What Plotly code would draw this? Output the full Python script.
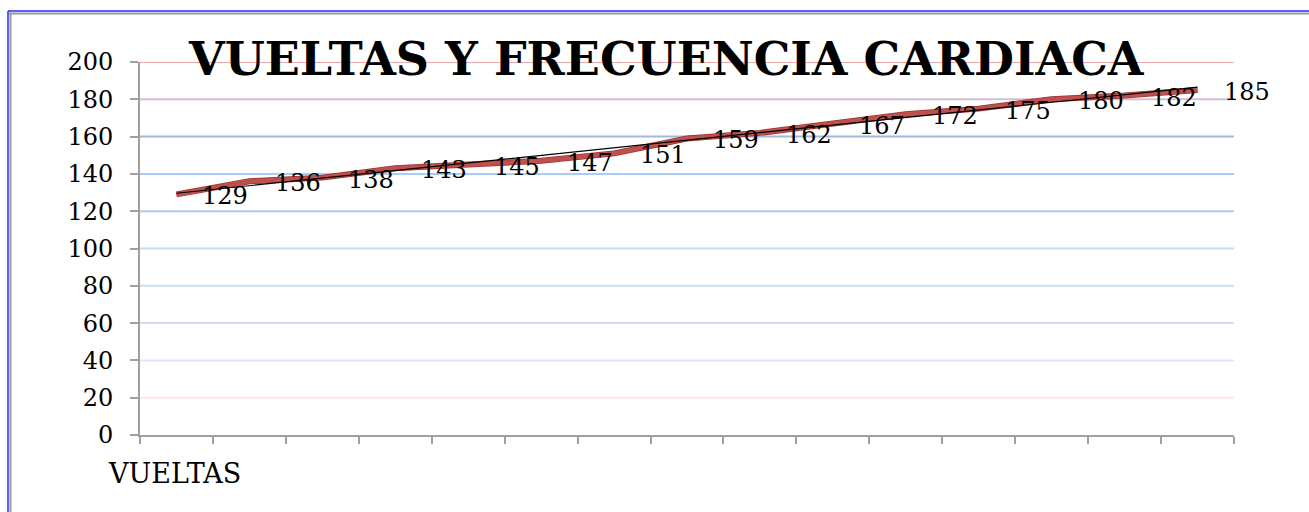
import numpy as np
import plotly.graph_objects as go

# ---- data ----
categories = [str(i) for i in range(1, 16)]
values = [129, 136, 138, 143, 145, 147, 151, 159, 162, 167, 172, 175, 180, 182, 185]
y_ticks = [0, 20, 40, 60, 80, 100, 120, 140, 160, 180, 200]
grid_colors = ["#ffffff", "#fce6f3", "#e9e1f5", "#d3def2", "#c9dcf2", "#c2def8",
               "#a9d0f6", "#a6cdf3", "#a3b8e2", "#d2bfd6", "#e8aaaa"]
title_text = "VUELTAS Y FRECUENCIA CARDIACA"
xlabel_text = "VUELTAS"

# linear trendline from the data (Excel-style)
xs = np.arange(1, len(values) + 1)
slope, intercept = np.polyfit(xs, values, 1)
trend = slope * xs + intercept

W, H = 1309, 512
L, R, T, B = 140, 75, 62, 77
pw, ph = W - L - R, H - T - B

def px_x(p):
    return (p - L) / pw

def px_y(q):
    return (H - B - q) / ph

FONT = "DejaVu Serif"

fig = go.Figure()
fig.add_trace(go.Scatter(x=categories, y=values, mode="lines",
                         line=dict(color="#9a3431", width=6), hoverinfo="skip",
                         showlegend=False))
fig.add_trace(go.Scatter(x=categories, y=values, mode="lines",
                         line=dict(color="#c0504d", width=4.5), showlegend=False))
fig.add_trace(go.Scatter(x=categories, y=trend, mode="lines",
                         line=dict(color="#000000", width=1.2), showlegend=False))

for i, v in enumerate(values):
    fig.add_annotation(x=i, y=v, xref="x", yref="y", text=str(v), showarrow=False,
                       xanchor="left", yanchor="middle", xshift=24, yshift=-2,
                       font=dict(family=FONT, size=24, color="#000000"))

shapes = []
for t, col in zip(y_ticks, grid_colors):
    if t == 0:
        continue
    shapes.append(dict(type="line", xref="paper", yref="y", x0=0, x1=1, y0=t, y1=t,
                       line=dict(color=col, width=2), layer="below"))

# outer frame (blue + gray)
shapes.append(dict(type="line", xref="paper", yref="paper", x0=px_x(8), x1=px_x(W + 5),
                   y0=px_y(11), y1=px_y(11), line=dict(color="#2a2aff", width=1.5)))
shapes.append(dict(type="line", xref="paper", yref="paper", x0=px_x(9), x1=px_x(W + 5),
                   y0=px_y(13.5), y1=px_y(13.5), line=dict(color="#999999", width=2)))
shapes.append(dict(type="line", xref="paper", yref="paper", x0=px_x(8), x1=px_x(8),
                   y0=px_y(11), y1=px_y(H + 5), line=dict(color="#2a2aff", width=1.5)))
shapes.append(dict(type="line", xref="paper", yref="paper", x0=px_x(10.5), x1=px_x(10.5),
                   y0=px_y(13.5), y1=px_y(H + 5), line=dict(color="#999999", width=2)))

fig.add_annotation(x=px_x(666), y=px_y(59), xref="paper", yref="paper", text="<b>" + title_text + "</b>",
                   showarrow=False, xanchor="center", yanchor="middle",
                   font=dict(family=FONT, size=46, color="#000000"))
fig.add_annotation(x=px_x(106), y=px_y(473), xref="paper", yref="paper", text=xlabel_text,
                   showarrow=False, xanchor="left", yanchor="middle",
                   font=dict(family=FONT, size=27, color="#000000"))

fig.update_layout(
    width=W, height=H,
    margin=dict(l=L, r=R, t=T, b=B, autoexpand=False),
    paper_bgcolor="#ffffff", plot_bgcolor="#ffffff",
    shapes=shapes,
    showlegend=False,
    xaxis=dict(type="category", range=[-0.5, 14.5], showgrid=False, zeroline=False,
               showticklabels=False, ticks="outside", tickson="boundaries", ticklen=7,
               tickcolor="#a0a0a0", tickwidth=2, showline=True, linecolor="#a0a0a0",
               linewidth=2),
    yaxis=dict(range=[0, 200], tickvals=y_ticks, showgrid=False, zeroline=False,
               ticks="outside", ticklen=8, tickcolor="#a0a0a0", tickwidth=2,
               showline=True, linecolor="#a0a0a0", linewidth=2, ticklabelstandoff=12,
               tickfont=dict(family=FONT, size=24, color="#000000")),
)

fig.write_html("out.html")
